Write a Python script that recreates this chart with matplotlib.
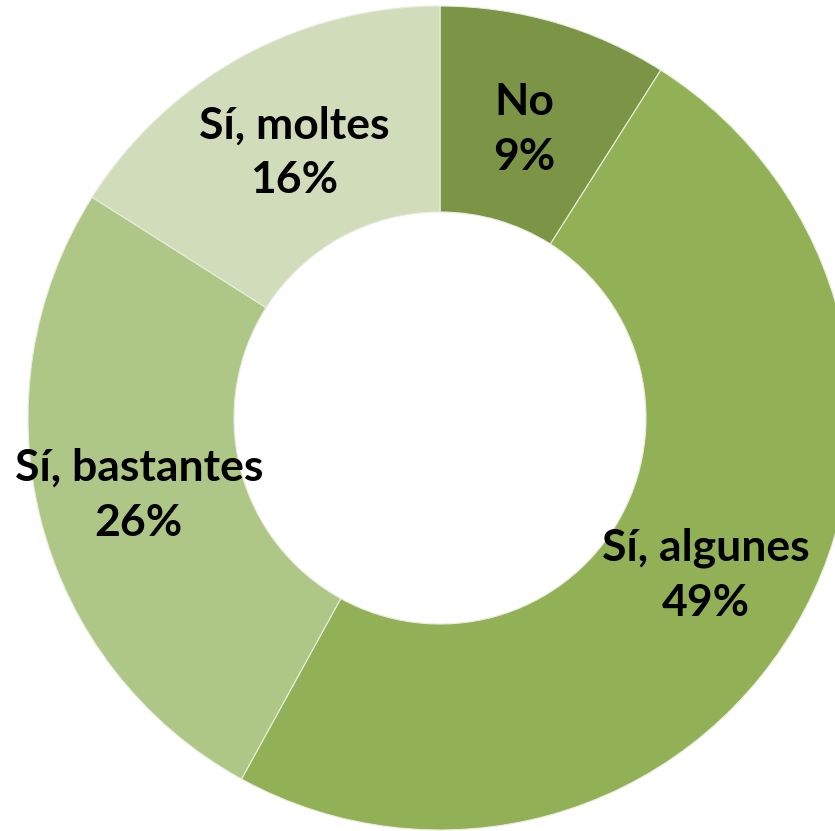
import numpy as np
import matplotlib
matplotlib.use("Agg")
import matplotlib.pyplot as plt

# answers, clockwise from 12 o'clock
categories = ["No", "Sí, algunes", "Sí, bastantes", "Sí, moltes"]
values = [9, 49, 26, 16]
colors = ["#7b9445", "#92b056", "#aec686", "#d0dcba"]

fig = plt.figure(figsize=(8.35, 8.31), dpi=100)
# centre at (440, 418) px, outer radius ~412 px; the ring runs off the right edge
R = 412
ax = fig.add_axes([(440 - R) / 835, (831 - 418 - R) / 831, 2 * R / 835, 2 * R / 831])

wedges, _ = ax.pie(values, colors=colors, startangle=90, counterclock=False,
                   radius=1.0, wedgeprops=dict(width=0.5, edgecolor="#e8eedd", linewidth=0.8))
for w in wedges:
    w.set_clip_on(False)

label_r = [0.73, 0.75, 0.755, 0.735]
for w, cat, v, lr in zip(wedges, categories, values, label_r):
    mid = np.radians((w.theta1 + w.theta2) / 2)
    ax.text(lr * np.cos(mid), lr * np.sin(mid), f"{cat}\n{v}%",
            ha="center", va="center", fontsize=32, fontweight="bold",
            family="Lato", linespacing=1.45, color="black")

ax.set_xlim(-1, 1)
ax.set_ylim(-1, 1)
ax.set_aspect("equal")
ax.axis("off")

fig.savefig("out.png", dpi=100)
